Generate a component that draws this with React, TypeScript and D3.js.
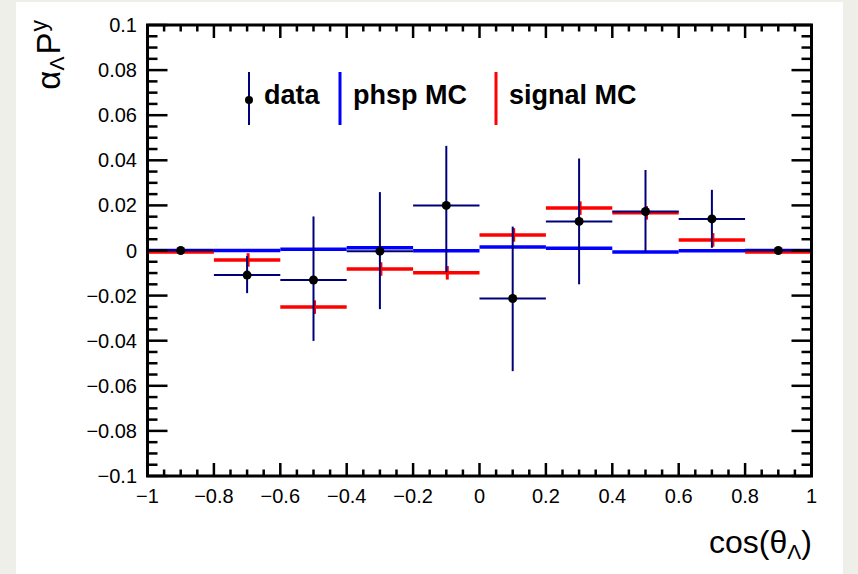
import React, { useEffect, useRef } from 'react';
import * as d3 from 'd3';

// bin edges of cos(theta_Lambda)
const binEdges = [-1, -0.8, -0.6, -0.4, -0.2, 0, 0.2, 0.4, 0.6, 0.8, 1];
const binCenters = [-0.9, -0.7, -0.5, -0.3, -0.1, 0.1, 0.3, 0.5, 0.7, 0.9];

// data points with asymmetric errors
const dataValues = [0, -0.0109, -0.0131, -0.0003, 0.02, -0.0213, 0.0129, 0.0173, 0.014, 0];
const dataErrLow = [0, 0.008, 0.027, 0.0257, 0.0296, 0.0322, 0.0279, 0.018, 0.0128, 0];
const dataErrHigh = [0, 0.0084, 0.0282, 0.0262, 0.0264, 0.0319, 0.0279, 0.0184, 0.0129, 0];

// phase space MC
const phspValues = [0, 0, 0.0006, 0.0012, -0.0001, 0.0016, 0.001, -0.0007, -0.0001, 0];

// signal MC
const signalValues = [0, -0.0042, -0.0251, -0.0082, -0.0099, 0.0069, 0.0188, 0.0167, 0.0047, 0];
const signalErr = [0, 0.003, 0.003, 0.003, 0.003, 0.003, 0.003, 0.003, 0.003, 0];

const FONT = "'Liberation Sans', Arial, Helvetica, sans-serif";
const NAVY = '#00007a';

const fmt = (t: number) => String(+t.toFixed(3)).replace('-', '\u2212');

const App = () => {
  const ref = useRef<SVGSVGElement | null>(null);

  useEffect(() => {
    document.body.style.margin = '0';
    if (!ref.current) return;
    const svg = d3.select(ref.current);
    svg.selectAll('*').remove();

    const W = 858;
    const H = 574;
    const frame = { left: 147.5, right: 811.5, top: 25, bottom: 476 };

    svg.append('rect').attr('width', W).attr('height', H).attr('fill', '#efefea');
    svg.append('rect').attr('x', 16).attr('y', 2).attr('width', 827).attr('height', H - 2).attr('fill', '#ffffff');

    const x = d3.scaleLinear().domain([-1, 1]).range([frame.left, frame.right]);
    const y = d3.scaleLinear().domain([-0.1, 0.1]).range([frame.bottom, frame.top]);

    const bins = binCenters.map((c, i) => ({ c, lo: binEdges[i], hi: binEdges[i + 1], i }));

    const g = svg.append('g');

    // phsp MC (blue)
    g.selectAll('.phsp')
      .data(bins)
      .enter()
      .append('line')
      .attr('x1', d => x(d.lo))
      .attr('x2', d => x(d.hi))
      .attr('y1', d => y(phspValues[d.i]))
      .attr('y2', d => y(phspValues[d.i]))
      .attr('stroke', '#0000ff')
      .attr('stroke-width', 3.5);

    // signal MC (red)
    g.selectAll('.sig')
      .data(bins)
      .enter()
      .append('line')
      .attr('x1', d => x(d.lo))
      .attr('x2', d => x(d.hi))
      .attr('y1', d => y(signalValues[d.i]) + (signalValues[d.i] === 0 ? 1.5 : 0))
      .attr('y2', d => y(signalValues[d.i]) + (signalValues[d.i] === 0 ? 1.5 : 0))
      .attr('stroke', '#ff0000')
      .attr('stroke-width', 3.5);

    g.selectAll('.sigErr')
      .data(bins.filter(d => signalErr[d.i] > 0))
      .enter()
      .append('line')
      .attr('x1', d => x(d.c) + 1)
      .attr('x2', d => x(d.c) + 1)
      .attr('y1', d => y(signalValues[d.i] - signalErr[d.i]))
      .attr('y2', d => y(signalValues[d.i] + signalErr[d.i]))
      .attr('stroke', '#ff0000')
      .attr('stroke-width', 3);

    // data (navy)
    g.selectAll('.dataH')
      .data(bins)
      .enter()
      .append('line')
      .attr('x1', d => x(d.lo))
      .attr('x2', d => x(d.hi))
      .attr('y1', d => y(dataValues[d.i]))
      .attr('y2', d => y(dataValues[d.i]))
      .attr('stroke', NAVY)
      .attr('stroke-width', 2);

    g.selectAll('.dataV')
      .data(bins.filter(d => dataErrHigh[d.i] > 0))
      .enter()
      .append('line')
      .attr('x1', d => x(d.c))
      .attr('x2', d => x(d.c))
      .attr('y1', d => y(dataValues[d.i] - dataErrLow[d.i]))
      .attr('y2', d => y(dataValues[d.i] + dataErrHigh[d.i]))
      .attr('stroke', NAVY)
      .attr('stroke-width', 2);

    g.selectAll('.dot')
      .data(bins)
      .enter()
      .append('circle')
      .attr('cx', d => x(d.c))
      .attr('cy', d => y(dataValues[d.i]))
      .attr('r', 4.5)
      .attr('fill', '#000000');

    // axes frame with ticks on all four sides
    const ax = svg.append('g').attr('stroke', '#000').attr('stroke-width', 2.5);
    const xMaj = x.ticks(10);
    const xMin = x.ticks(40);
    const yMaj = y.ticks(10);
    const yMin = y.ticks(40);
    const isMaj = (arr: number[], v: number) => arr.some(a => Math.abs(a - v) < 1e-9);

    xMin.forEach(t => {
      const len = isMaj(xMaj, t) ? 13 : 6.5;
      ax.append('line').attr('x1', x(t)).attr('x2', x(t)).attr('y1', frame.bottom).attr('y2', frame.bottom - len);
      ax.append('line').attr('x1', x(t)).attr('x2', x(t)).attr('y1', frame.top).attr('y2', frame.top + len);
    });
    yMin.forEach(t => {
      const len = isMaj(yMaj, t) ? 20 : 10;
      ax.append('line').attr('y1', y(t)).attr('y2', y(t)).attr('x1', frame.left).attr('x2', frame.left + len);
      ax.append('line').attr('y1', y(t)).attr('y2', y(t)).attr('x1', frame.right).attr('x2', frame.right - len);
    });
    svg.append('rect')
      .attr('x', frame.left)
      .attr('y', frame.top)
      .attr('width', frame.right - frame.left)
      .attr('height', frame.bottom - frame.top)
      .attr('fill', 'none')
      .attr('stroke', '#000')
      .attr('stroke-width', 3);

    // tick labels
    svg.selectAll('.xl')
      .data(xMaj)
      .enter()
      .append('text')
      .attr('x', d => x(d))
      .attr('y', 503)
      .attr('text-anchor', 'middle')
      .attr('font-family', FONT)
      .attr('font-size', 20)
      .text(d => fmt(d));

    svg.selectAll('.yl')
      .data(yMaj)
      .enter()
      .append('text')
      .attr('x', 137)
      .attr('y', d => y(d) + 7)
      .attr('text-anchor', 'end')
      .attr('font-family', FONT)
      .attr('font-size', 20)
      .text(d => fmt(d));

    // x title
    const xt = svg.append('text')
      .attr('x', 812)
      .attr('y', 553)
      .attr('text-anchor', 'end')
      .attr('font-family', FONT)
      .attr('font-size', 32);
    xt.append('tspan').text('cos(\u03b8');
    xt.append('tspan').attr('font-size', 21).attr('dy', 6).text('\u039b');
    xt.append('tspan').attr('dy', -6).text(')');

    // y title
    const yt = svg.append('text')
      .attr('transform', 'translate(60,20) rotate(-90)')
      .attr('text-anchor', 'end')
      .attr('font-family', FONT)
      .attr('font-size', 33);
    yt.append('tspan').text('\u03b1');
    yt.append('tspan').attr('font-size', 21).attr('dy', 4).text('\u039b');
    yt.append('tspan').attr('dy', -4).attr('dx', 2).text('P');
    yt.append('tspan').attr('font-size', 23).attr('dy', -13).attr('dx', 1).text('y');

    // legend
    const lg = svg.append('g').attr('font-family', FONT).attr('font-weight', 'bold').attr('font-size', 27);
    lg.append('line').attr('x1', 249).attr('x2', 249).attr('y1', 72).attr('y2', 125).attr('stroke', NAVY).attr('stroke-width', 2);
    lg.append('circle').attr('cx', 249).attr('cy', 100).attr('r', 4).attr('fill', '#000');
    lg.append('text').attr('x', 264).attr('y', 104).text('data');
    lg.append('line').attr('x1', 340).attr('x2', 340).attr('y1', 72).attr('y2', 125).attr('stroke', '#0000ff').attr('stroke-width', 3);
    lg.append('text').attr('x', 353).attr('y', 104).text('phsp MC');
    lg.append('line').attr('x1', 496).attr('x2', 496).attr('y1', 72).attr('y2', 125).attr('stroke', '#ff0000').attr('stroke-width', 3);
    lg.append('text').attr('x', 509).attr('y', 104).text('signal MC');
  }, []);

  return (
    <svg
      ref={ref}
      width={858}
      height={574}
      style={{ position: 'absolute', left: 0, top: 0, display: 'block' }}
    />
  );
};

export default App;
